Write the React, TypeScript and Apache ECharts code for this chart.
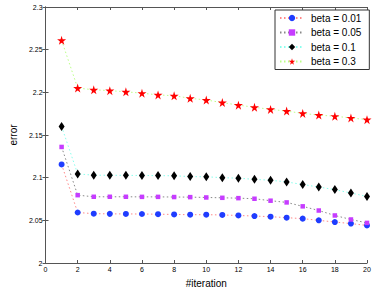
import React, { useEffect, useRef } from "react";
import * as echarts from "echarts";

const iterations = [1, 2, 3, 4, 5, 6, 7, 8, 9, 10, 11, 12, 13, 14, 15, 16, 17, 18, 19, 20];
const beta001 = [2.1155, 2.0592, 2.0578, 2.0576, 2.0575, 2.0574, 2.0572, 2.0569, 2.0566, 2.0566, 2.0563, 2.0557, 2.055, 2.0543, 2.0531, 2.052, 2.05, 2.048, 2.0462, 2.044];
const beta005 = [2.136, 2.0795, 2.0776, 2.0776, 2.0776, 2.0775, 2.0775, 2.0773, 2.0772, 2.0768, 2.0764, 2.076, 2.0753, 2.073, 2.071, 2.0664, 2.0615, 2.0557, 2.051, 2.047];
const beta01 = [2.16, 2.1044, 2.1029, 2.1028, 2.1027, 2.1026, 2.1024, 2.1022, 2.1013, 2.101, 2.1, 2.0994, 2.098, 2.097, 2.095, 2.092, 2.089, 2.086, 2.082, 2.078];
const beta03 = [2.261, 2.205, 2.203, 2.202, 2.2006, 2.199, 2.197, 2.196, 2.193, 2.191, 2.188, 2.185, 2.1825, 2.18, 2.178, 2.1753, 2.1733, 2.172, 2.17, 2.168];
const seriesNames = ["beta = 0.01", "beta = 0.05", "beta = 0.1", "beta = 0.3"];

const FONT = "Liberation Sans, Arial, Helvetica, sans-serif";
const STAR = "path://M50,0 L61,35 L98,35 L68,57 L79,91 L50,70 L21,91 L32,57 L2,35 L39,35 Z";

export default function App() {
  const ref = useRef<HTMLDivElement>(null);
  useEffect(() => {
    if (!ref.current) return;
    const chart = echarts.init(ref.current, null, { renderer: "svg" });
    const axisLine = { show: true, lineStyle: { color: "#555", width: 1 } };
    const mk = (data: number[]) => data.map((v, i) => [iterations[i], v]);
    const series: any[] = [
      { name: seriesNames[0], data: mk(beta001), symbol: "circle", symbolSize: 6, color: "#1f3dff", lineColor: "#ff8888" },
      { name: seriesNames[1], data: mk(beta005), symbol: "rect", symbolSize: 4.5, color: "#c63cff", lineColor: "#888888" },
      { name: seriesNames[2], data: mk(beta01), symbol: "diamond", symbolSize: [6, 9], color: "#000000", lineColor: "#88ffee" },
      { name: seriesNames[3], data: mk(beta03), symbol: STAR, symbolSize: 9, color: "#ff0000", lineColor: "#bbff88" },
    ].map((s) => ({
      type: "line",
      name: s.name,
      data: s.data,
      symbol: s.symbol,
      symbolSize: s.symbolSize,
      showAllSymbol: true,
      itemStyle: { color: s.color },
      lineStyle: { color: s.lineColor, type: [1.5, 2.5], width: 1 },
      xAxisIndex: 0,
      yAxisIndex: 0,
    }));
    chart.setOption({
      animation: false,
      backgroundColor: "#fff",
      grid: { left: 35, right: 7, top: 7, bottom: 25 },
      textStyle: { fontFamily: FONT },
      legend: {
        data: seriesNames,
        orient: "vertical",
        left: 275,
        top: 10,
        width: 88,
        backgroundColor: "#fff",
        borderColor: "#333",
        borderWidth: 1,
        padding: [3, 8, 3, 4],
        itemWidth: 24,
        itemHeight: 8,
        itemGap: 4.5,
        textStyle: { fontSize: 10, fontFamily: FONT, color: "#000", padding: [0, 0, 0, 2] },
      },
      xAxis: [
        {
          type: "value", min: 0, max: 20, interval: 2, position: "bottom",
          name: "#iteration", nameLocation: "middle", nameGap: 15,
          nameTextStyle: { fontSize: 10, color: "#000", fontFamily: FONT },
          axisLine, axisTick: { show: true, inside: true, length: 3, lineStyle: { color: "#555" } },
          axisLabel: { fontSize: 7, color: "#000", margin: 3, fontFamily: FONT },
          splitLine: { show: false },
        },
        {
          type: "value", min: 0, max: 20, interval: 2, position: "top",
          axisLine, axisTick: { show: true, inside: true, length: 3, lineStyle: { color: "#555" } },
          axisLabel: { show: false }, splitLine: { show: false },
        },
      ],
      yAxis: [
        {
          type: "value", min: 2, max: 2.3, interval: 0.05, position: "left",
          name: "error", nameLocation: "middle", nameGap: 27,
          nameTextStyle: { fontSize: 10, color: "#000", fontFamily: FONT },
          axisLine, axisTick: { show: true, inside: true, length: 3, lineStyle: { color: "#555" } },
          axisLabel: { fontSize: 7, color: "#000", margin: 3, fontFamily: FONT, formatter: (v: number) => String(parseFloat(v.toFixed(2))) },
          splitLine: { show: false },
        },
        {
          type: "value", min: 2, max: 2.3, interval: 0.05, position: "right",
          axisLine, axisTick: { show: true, inside: true, length: 3, lineStyle: { color: "#555" } },
          axisLabel: { show: false }, splitLine: { show: false },
        },
      ],
      series,
    });
    return () => chart.dispose();
  }, []);
  return <div ref={ref} style={{ width: 374, height: 293, position: "absolute", left: 0, top: 0 }} />;
}
